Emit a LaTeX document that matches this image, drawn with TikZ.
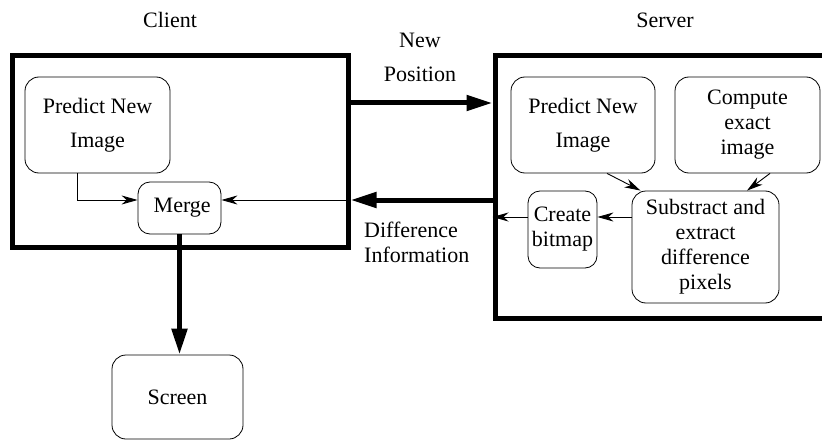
\documentclass[tikz,border=0pt]{standalone}
\usepackage{fontspec}
\setmainfont{Liberation Serif}
\newfontfamily\labelfont{Liberation Serif}
\usetikzlibrary{arrows.meta}

\begin{document}
\begin{tikzpicture}[x=1pt,y=-1pt,
	every node/.style={font=\labelfont\fontsize{22}{25}\selectfont,align=center,inner sep=0pt},
	box/.style={draw,line width=0.8pt,rounded corners=14pt},
	frame/.style={draw,line width=5pt},
	flow/.style={line width=5pt,-{Triangle[length=26pt,width=15pt]}},
	link/.style={line width=0.9pt,-{Stealth[length=16pt,width=9pt,inset=5pt]}}]
\useasboundingbox (0,0) rectangle (822,441);

% client side
\node[frame,minimum width=336pt,minimum height=192pt] (client) at (180,151.5) {};
\node (ctitle) at (170,20) {Client};
\node[box,minimum width=145pt,minimum height=96pt] (cpred) at (97.5,125) {Predict New\\[9pt]Image};
\node[box,rounded corners=12pt,minimum width=83pt,minimum height=52pt] (merge) at (179.5,208) {\ Merge};
\node[box,minimum width=131pt,minimum height=84pt] (screen) at (177.5,397) {Screen};

% server side
\node[frame,minimum width=360pt,minimum height=262pt] (server) at (675,187) {};
\node (stitle) at (665,20) {Server};
\node[box,minimum width=144pt,minimum height=96pt] (spred) at (583,125) {Predict New\\[9pt]Image};
\node[box,minimum width=145pt,minimum height=96pt] (exact) at (747.5,125) {Compute\\exact\\image};
\node[box,minimum width=147pt,minimum height=112pt] (sub) at (705.5,247) {Substract and\\extract\\difference\\pixels};
\node[box,rounded corners=12pt,minimum width=69pt,minimum height=77pt] (bitmap) at (562.5,229.5) {Create\\bitmap};

% messages
\node (newpos) at (420,57) {New\\[9pt]Position};
\node[anchor=west,align=left] (diffinfo) at (364,242) {Difference\\Information};

\draw[flow] (client.east |- 0,103) -- (server.west |- 0,103);
\draw[flow] (server.west |- 0,200) -- (client.east |- 0,200);
\draw[link] (client.east |- 0,200) -- (merge.east |- 0,200);
\draw[link] ([xshift=-20.5pt]cpred.south) |- (merge.west |- 0,200);
\draw[flow] (merge.south) -- (merge.south |- screen.north);

\draw[link] ([xshift=24pt]spred.south) -- ([xshift=-65pt]sub.north);
\draw[link] ([xshift=22.5pt]exact.south) -- ([xshift=41.5pt]sub.north);
\draw[link] (sub.west |- 0,217) -- (bitmap.east |- 0,217);
\draw[link] (bitmap.west |- 0,217) -- (server.west |- 0,217);
\end{tikzpicture}
\end{document}
